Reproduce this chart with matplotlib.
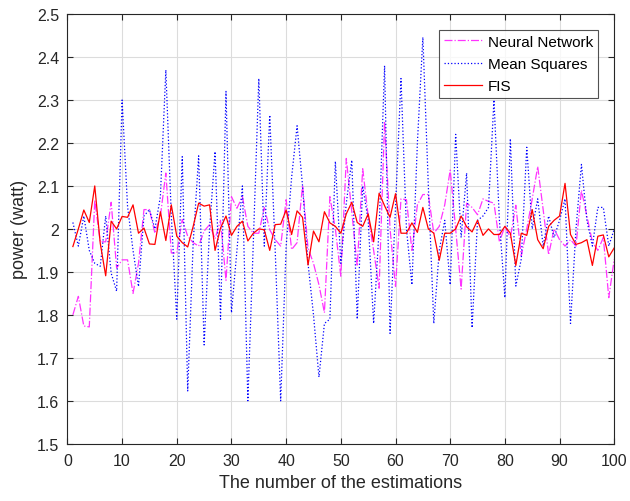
import matplotlib
matplotlib.use("Agg")
import matplotlib.pyplot as plt
from matplotlib.ticker import FuncFormatter
import numpy as np

estimations = list(range(1, 101))

neural_network = [
    1.80, 1.843, 1.774, 1.772, 2.067, 1.97, 1.97, 2.062, 1.909, 1.928,
    1.928, 1.85, 1.92, 2.045, 2.045, 1.99, 2.03, 2.13, 1.944, 1.944,
    2.022, 1.983, 1.968, 1.96, 1.995, 2.01, 1.977, 2.02, 1.88, 2.075,
    2.048, 2.075, 2.006, 1.99, 1.99, 2.05, 1.998, 1.975, 1.96, 2.068,
    1.952, 1.968, 2.102, 1.955, 1.92, 1.87, 1.805, 2.075, 2.0, 1.89,
    2.164, 2.04, 1.913, 2.14, 2.03, 1.95, 1.862, 2.25, 2.0, 1.866,
    2.07, 2.068, 1.95, 2.056, 2.08, 2.08, 1.99, 2.006, 2.056, 2.137,
    2.0, 1.86, 2.06, 2.05, 2.033, 2.07, 2.064, 2.06, 1.97, 2.006,
    1.98, 2.055, 1.937, 2.0, 2.07, 2.145, 2.045, 1.94, 2.0, 1.975,
    1.96, 1.975, 1.96, 2.09, 2.03, 1.97, 1.95, 1.98, 1.84, 1.93,
]

mean_squares = [
    2.015, 1.96, 2.03, 1.95, 1.92, 1.913, 2.03, 1.897, 1.855, 2.30,
    2.052, 1.95, 1.866, 2.03, 2.045, 2.0, 2.075, 2.37, 2.03, 1.79,
    2.168, 1.623, 1.968, 2.17, 1.73, 2.0, 2.18, 1.79, 2.32, 1.805,
    1.95, 2.1, 1.6, 1.97, 2.35, 1.96, 2.265, 1.95, 1.6, 1.96,
    2.12, 2.24, 2.1, 1.92, 1.8, 1.655, 1.78, 1.79, 2.157, 1.92,
    2.06, 2.16, 1.79, 2.1, 2.02, 1.78, 2.0, 2.38, 1.757, 2.05,
    2.35, 2.0, 1.87, 2.2, 2.446, 2.1, 1.78, 1.95, 2.02, 1.87,
    2.22, 1.98, 2.13, 1.77, 2.02, 2.03, 2.05, 2.30, 2.02, 1.84,
    2.21, 1.867, 1.93, 2.19, 2.0, 2.07, 1.96, 2.03, 1.98, 2.02,
    2.07, 1.78, 2.0, 2.15, 2.02, 1.96, 2.05, 2.05, 1.96, 2.0,
]

fis = [
    1.959, 2.0, 2.044, 2.015, 2.10, 1.967, 1.891, 2.018, 2.0, 2.029,
    2.027, 2.056, 1.99, 2.002, 1.965, 1.964, 2.04, 1.973, 2.056, 1.983,
    1.968, 1.958, 2.006, 2.06, 2.053, 2.056, 1.95, 2.002, 2.03, 1.985,
    2.006, 2.018, 1.972, 1.99, 2.0, 1.998, 1.95, 2.01, 2.011, 2.044,
    1.987, 2.042, 2.027, 1.916, 1.995, 1.97, 2.04, 2.014, 2.006, 1.99,
    2.035, 2.062, 2.015, 2.006, 2.035, 1.97, 2.083, 2.054, 2.027, 2.082,
    1.99, 1.99, 2.014, 1.992, 2.05, 2.0, 1.99, 1.927, 1.99, 1.99,
    2.0, 2.03, 2.005, 1.993, 2.02, 1.985, 2.0, 1.987, 1.987, 2.006,
    1.99, 1.915, 1.99, 1.985, 2.045, 1.975, 1.954, 2.006, 2.02, 2.03,
    2.106, 1.987, 1.964, 1.968, 1.975, 1.915, 1.983, 1.986, 1.935, 1.956,
]

x_ticks = list(range(0, 101, 10))
y_ticks = [1.5, 1.6, 1.7, 1.8, 1.9, 2.0, 2.1, 2.2, 2.3, 2.4, 2.5]

plt.rcParams['font.family'] = ['Liberation Sans', 'DejaVu Sans']

fig = plt.figure(figsize=(6.30, 5.02), dpi=100)
ax = fig.add_axes([0.107, 0.114, 0.868, 0.856])

dark = '#262626'
ax.plot(estimations, neural_network, color='#FF33FF', linestyle='-.', linewidth=0.9, label='Neural Network')
ax.plot(estimations, mean_squares, color='#0000FF', linestyle=':', linewidth=0.9, label='Mean Squares')
ax.plot(estimations, fis, color='#FF0000', linestyle='-', linewidth=0.9, label='FIS')

ax.set_xlim(0, 100)
ax.set_ylim(1.5, 2.5)
ax.set_xticks(x_ticks)
ax.set_yticks(y_ticks)
ax.yaxis.set_major_formatter(FuncFormatter(lambda v, p: f'{v:g}'))
ax.grid(True, color='#dcdcdc', linewidth=0.8)
ax.set_axisbelow(True)
ax.tick_params(direction='in', top=True, right=True, length=4, width=0.8,
               colors=dark, labelsize=11.5, labelcolor=dark)
ax.tick_params(axis='x', pad=7)
ax.tick_params(axis='y', pad=6)
for s in ax.spines.values():
    s.set_color(dark)
    s.set_linewidth(0.8)

ax.set_xlabel('The number of the estimations', fontsize=13, color=dark, labelpad=4)
ax.set_ylabel('power (watt)', fontsize=13, color=dark, labelpad=6)

leg = ax.legend(loc='upper right', bbox_to_anchor=(0.970, 0.963), borderaxespad=0.0,
                fontsize=11, frameon=True, fancybox=False, handlelength=2.5,
                borderpad=0.3, labelspacing=0.55, handletextpad=0.4)
leg.get_frame().set_edgecolor(dark)
leg.get_frame().set_linewidth(0.8)

fig.savefig('out.png', dpi=100)
